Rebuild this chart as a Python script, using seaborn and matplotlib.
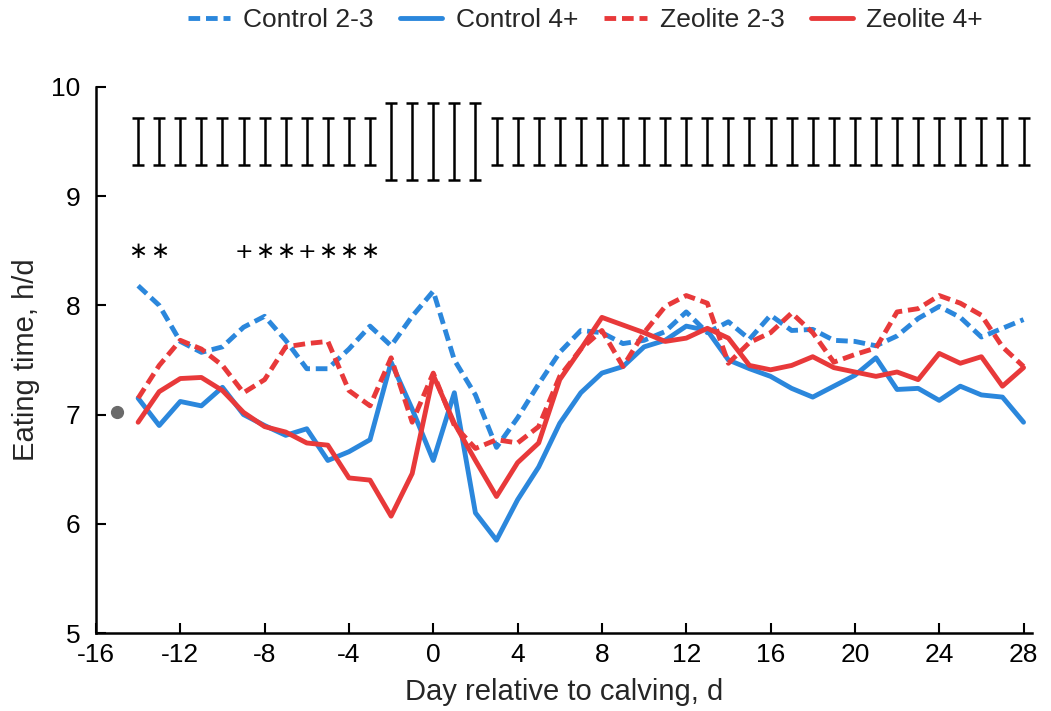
import numpy as np
import pandas as pd
import matplotlib
matplotlib.use("Agg")
import matplotlib.pyplot as plt
import seaborn as sns

days = list(range(-14, 29))

control_23 = [8.18, 8.00, 7.67, 7.57, 7.62, 7.80, 7.90, 7.68, 7.42, 7.42, 7.60, 7.81, 7.63,
              7.90, 8.13, 7.50, 7.18, 6.70, 6.97, 7.28, 7.57, 7.77, 7.75, 7.65, 7.68, 7.76,
              7.94, 7.75, 7.85, 7.69, 7.91, 7.77, 7.78, 7.68, 7.67, 7.63, 7.72, 7.88, 7.99,
              7.89, 7.71, 7.79, 7.87]
control_4 = [7.15, 6.90, 7.12, 7.08, 7.25, 7.00, 6.90, 6.81, 6.87, 6.58, 6.66, 6.77, 7.48,
             7.05, 6.58, 7.20, 6.10, 5.85, 6.22, 6.52, 6.92, 7.20, 7.38, 7.44, 7.62, 7.68,
             7.81, 7.77, 7.50, 7.42, 7.35, 7.24, 7.16, 7.26, 7.36, 7.52, 7.23, 7.24, 7.13,
             7.26, 7.18, 7.16, 6.93]
zeolite_23 = [7.15, 7.45, 7.68, 7.60, 7.45, 7.20, 7.32, 7.62, 7.65, 7.67, 7.22, 7.08, 7.52,
              6.93, 7.38, 6.90, 6.69, 6.77, 6.74, 6.89, 7.35, 7.60, 7.77, 7.44, 7.75, 7.99,
              8.09, 8.02, 7.47, 7.66, 7.75, 7.93, 7.75, 7.48, 7.55, 7.61, 7.94, 7.97, 8.09,
              8.02, 7.91, 7.62, 7.44]
zeolite_4 = [6.93, 7.21, 7.33, 7.34, 7.22, 7.02, 6.89, 6.84, 6.74, 6.72, 6.42, 6.40, 6.07,
             6.46, 7.36, 6.92, 6.58, 6.25, 6.56, 6.74, 7.32, 7.60, 7.89, 7.82, 7.75, 7.67,
             7.70, 7.79, 7.70, 7.45, 7.41, 7.45, 7.53, 7.43, 7.39, 7.35, 7.39, 7.32, 7.56,
             7.47, 7.53, 7.26, 7.43]

groups = ["Control 2-3", "Control 4+", "Zeolite 2-3", "Zeolite 4+"]
series = [control_23, control_4, zeolite_23, zeolite_4]

# error bars (SEM) drawn at top of panel
err_center = 9.5
err_half = [0.35 if -2 <= d <= 2 else 0.217 for d in days]

# significance marks
sig_days = [-14, -13, -9, -8, -7, -6, -5, -4, -3]
sig_marks = ["∗", "∗", "+", "∗", "∗", "+", "∗", "∗", "∗"]
sig_y = 8.49

ref_day = [-15]
ref_val = [7.02]

x_ticks = list(range(-16, 29, 4))
y_ticks = [5, 6, 7, 8, 9, 10]

blue = "#2b87dc"
red = "#e8393a"

df = pd.DataFrame({
    "day": days * 4,
    "time": sum(series, []),
    "group": sum([[g] * len(days) for g in groups], []),
})

sns.set_style("ticks")
plt.rcParams["font.family"] = ["Liberation Sans", "DejaVu Sans"]
plt.rcParams["axes.unicode_minus"] = False

fig = plt.figure(figsize=(10.51, 7.11), dpi=100)
ax = fig.add_axes([0.0913, 0.1097, 0.8906, 0.768])

palette = {"Control 2-3": blue, "Control 4+": blue, "Zeolite 2-3": red, "Zeolite 4+": red}
dashes = {"Control 2-3": (2.4, 1.2), "Control 4+": "", "Zeolite 2-3": (2.4, 1.2), "Zeolite 4+": ""}

sns.lineplot(data=df, x="day", y="time", hue="group", style="group",
             hue_order=groups, style_order=groups, palette=palette, dashes=dashes,
             linewidth=3.5, ax=ax)

ax.errorbar(days, [err_center] * len(days), yerr=err_half, fmt="none",
            ecolor="black", elinewidth=1.8, capsize=4.3, capthick=1.8)

for d, m in zip(sig_days, sig_marks):
    ax.text(d, sig_y, m, ha="center", va="center", fontsize=16.5 if m == "∗" else 16,
            family=["DejaVu Sans"], color="black")

ax.plot(ref_day, ref_val, "o", color="#6a6a6a", markersize=8.5, clip_on=False)

ax.set_xlim(-16, 28.4)
ax.set_ylim(5, 10)
ax.set_xticks(x_ticks)
ax.set_yticks(y_ticks)
ax.set_xlabel("Day relative to calving, d", fontsize=21, labelpad=8)
ax.set_ylabel("Eating time, h/d", fontsize=21, labelpad=8)
ax.tick_params(axis="both", direction="in", length=7, width=1.5, labelsize=19, colors="black")
ax.tick_params(axis="y", pad=11)
ax.tick_params(axis="x", pad=7)
for s in ["top", "right"]:
    ax.spines[s].set_visible(False)
for s in ["left", "bottom"]:
    ax.spines[s].set_linewidth(1.8)
    ax.spines[s].set_color("black")

sns.move_legend(ax, "center", bbox_to_anchor=(0.557, 0.972), bbox_transform=fig.transFigure,
                ncol=4, frameon=False, title=None, fontsize=19, handlelength=1.6,
                handletextpad=0.5, columnspacing=1.0)

fig.savefig("out.png", dpi=100)
